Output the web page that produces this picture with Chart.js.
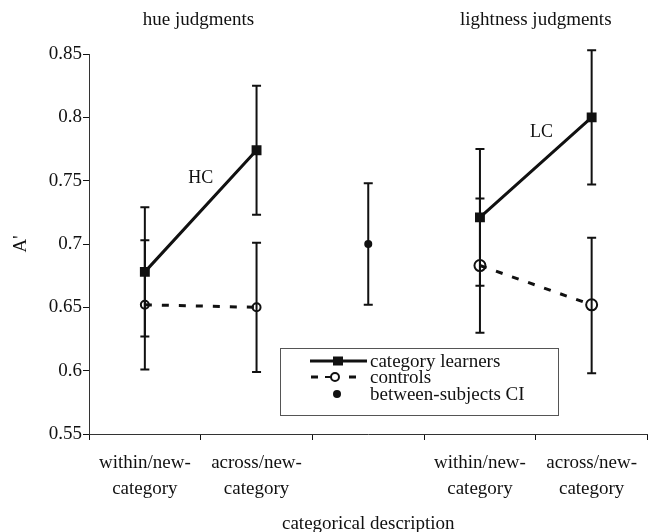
<!DOCTYPE html>
<html>
<head>
<meta charset="utf-8">
<script src="https://cdn.jsdelivr.net/npm/chart.js@4.4.1/dist/chart.umd.min.js"></script>
<style>
  html, body { margin: 0; padding: 0; background: #fff; }
  #wrap { width: 655px; height: 532px; }
</style>
</head>
<body>
<div id="wrap"><canvas id="c" width="655" height="532"></canvas></div>
<script>
// Conditions along the x axis (the middle slot holds the between-subjects CI)
const categories = [
  ['within/new-', 'category'],
  ['across/new-', 'category'],
  '',
  ['within/new-', 'category'],
  ['across/new-', 'category']
];

// Mean A' per condition
const learners      = [0.678, 0.774, null, 0.721, 0.800];
const learnersLow   = [0.627, 0.723, null, 0.667, 0.747];
const learnersHigh  = [0.729, 0.825, null, 0.775, 0.853];

const controls      = [0.652, 0.650, null, 0.683, 0.652];
const controlsLow   = [0.601, 0.599, null, 0.630, 0.598];
const controlsHigh  = [0.703, 0.701, null, 0.736, 0.705];

const betweenCI     = [null, null, 0.700, null, null];
const betweenLow    = [null, null, 0.652, null, null];
const betweenHigh   = [null, null, 0.748, null, null];

const yTicks = [0.55, 0.6, 0.65, 0.7, 0.75, 0.8, 0.85];

// Panel headings and in-plot labels: [text, x index, y value]
const panelTitles = [['hue judgments', 0.48], ['lightness judgments', 3.5]];
const curveLabels = [['HC', 0.5, 0.752], ['LC', 3.55, 0.788]];
const keyEntries  = ['category learners', 'controls', 'between-subjects CI'];

const SERIF = '"Liberation Serif", "Times New Roman", serif';
const INK = '#111';

// Vertical error bars with caps, drawn through the value scale
const errorBars = {
  id: 'errorBars',
  beforeDatasetsDraw(chart) {
    const {ctx, scales: {x, y}} = chart;
    const sets = [[learnersLow, learnersHigh], [controlsLow, controlsHigh], [betweenLow, betweenHigh]];
    ctx.save();
    ctx.strokeStyle = INK;
    ctx.lineWidth = 2;
    sets.forEach(([lo, hi]) => {
      lo.forEach((v, i) => {
        if (v == null || hi[i] == null) return;
        const px = x.getPixelForValue(i);
        const y1 = y.getPixelForValue(v);
        const y2 = y.getPixelForValue(hi[i]);
        ctx.beginPath();
        ctx.moveTo(px, y1); ctx.lineTo(px, y2);
        ctx.moveTo(px - 4.5, y1); ctx.lineTo(px + 4.5, y1);
        ctx.moveTo(px - 4.5, y2); ctx.lineTo(px + 4.5, y2);
        ctx.stroke();
      });
    });
    ctx.restore();
  }
};

// Panel headings, curve tags and the boxed key
const annotations = {
  id: 'annotations',
  afterDraw(chart) {
    const {ctx, scales: {x, y}} = chart;
    ctx.save();
    ctx.fillStyle = INK;
    ctx.textBaseline = 'middle';
    ctx.textAlign = 'center';
    ctx.font = '19px ' + SERIF;
    panelTitles.forEach(([t, i]) => ctx.fillText(t, x.getPixelForValue(i), 20));
    ctx.font = '18px ' + SERIF;
    curveLabels.forEach(([t, i, v]) => ctx.fillText(t, x.getPixelForValue(i), y.getPixelForValue(v)));

    // key box
    const bx = 280, by = 348, bw = 278, bh = 67;
    ctx.strokeStyle = '#555';
    ctx.lineWidth = 1;
    ctx.strokeRect(bx + 0.5, by + 0.5, bw, bh);

    const rows = [361, 377, 394];
    // category learners: solid line with filled square
    ctx.strokeStyle = INK;
    ctx.lineWidth = 3;
    ctx.beginPath(); ctx.moveTo(310, rows[0]); ctx.lineTo(367, rows[0]); ctx.stroke();
    ctx.fillRect(333, rows[0] - 4.5, 10, 9);
    // controls: dashes with open circle
    ctx.beginPath();
    ctx.moveTo(311, rows[1]); ctx.lineTo(318, rows[1]);
    ctx.moveTo(349, rows[1]); ctx.lineTo(356, rows[1]);
    ctx.stroke();
    ctx.lineWidth = 2;
    ctx.beginPath(); ctx.moveTo(325, rows[1]); ctx.lineTo(331, rows[1]); ctx.stroke();
    ctx.beginPath(); ctx.arc(335, rows[1], 4, 0, Math.PI * 2); ctx.stroke();
    // between-subjects CI: filled dot
    ctx.beginPath(); ctx.arc(337, rows[2], 4, 0, Math.PI * 2); ctx.fill();

    ctx.textAlign = 'left';
    ctx.textBaseline = 'alphabetic';
    ctx.font = '19px ' + SERIF;
    keyEntries.forEach((t, k) => ctx.fillText(t, 370, rows[k] + 5.5));
    ctx.restore();
  }
};

new Chart(document.getElementById('c'), {
  type: 'line',
  data: {
    labels: categories,
    datasets: [
      {
        label: keyEntries[0],
        data: learners,
        borderColor: INK,
        borderWidth: 3,
        pointStyle: 'rect',
        pointRadius: 7,
        pointBackgroundColor: INK,
        pointBorderColor: INK,
        pointBorderWidth: 0,
        spanGaps: false,
        tension: 0
      },
      {
        label: keyEntries[1],
        data: controls,
        borderColor: INK,
        borderWidth: 3,
        borderDash: [7, 10],
        pointStyle: 'circle',
        pointRadius: [4, 4, 0, 5.5, 5.5],
        pointBackgroundColor: 'rgba(0,0,0,0)',
        pointBorderColor: INK,
        pointBorderWidth: 2,
        spanGaps: false,
        tension: 0
      },
      {
        label: keyEntries[2],
        data: betweenCI,
        showLine: false,
        pointStyle: 'circle',
        pointRadius: 4,
        pointBackgroundColor: INK,
        pointBorderColor: INK,
        pointBorderWidth: 0
      }
    ]
  },
  options: {
    responsive: false,
    devicePixelRatio: 1,
    animation: false,
    events: [],
    layout: { padding: { top: 54, right: 3, left: 0, bottom: 0 } },
    plugins: { legend: { display: false }, tooltip: { enabled: false } },
    scales: {
      x: {
        offset: true,
        grid: { offset: true, drawOnChartArea: false, drawTicks: true, tickLength: 6, color: INK },
        border: { color: '#333', width: 1 },
        ticks: {
          color: INK,
          padding: 10,
          maxRotation: 0,
          autoSkip: false,
          font: { family: SERIF, size: 19, lineHeight: 1.37 }
        },
        title: {
          display: true,
          text: 'categorical description',
          color: INK,
          font: { family: SERIF, size: 19, lineHeight: 1 },
          padding: { top: 0, bottom: -2 }
        },
        afterFit: (s) => { s.height = 98; }
      },
      y: {
        min: yTicks[0],
        max: yTicks[yTicks.length - 1],
        afterBuildTicks: (s) => { s.ticks = yTicks.map(v => ({ value: v })); },
        grid: { drawOnChartArea: false, drawTicks: true, tickLength: 6, color: INK },
        border: { color: '#333', width: 1 },
        ticks: {
          color: INK,
          padding: 1,
          font: { family: SERIF, size: 19 },
          callback: (v) => String(Number(v.toFixed(2)))
        },
        title: {
          display: true,
          text: "A'",
          color: INK,
          font: { family: SERIF, size: 19, lineHeight: 1 },
          padding: { top: 12, bottom: 0 }
        },
        afterFit: (s) => { s.width = 89; }
      }
    }
  },
  plugins: [errorBars, annotations]
});
</script>
</body>
</html>
